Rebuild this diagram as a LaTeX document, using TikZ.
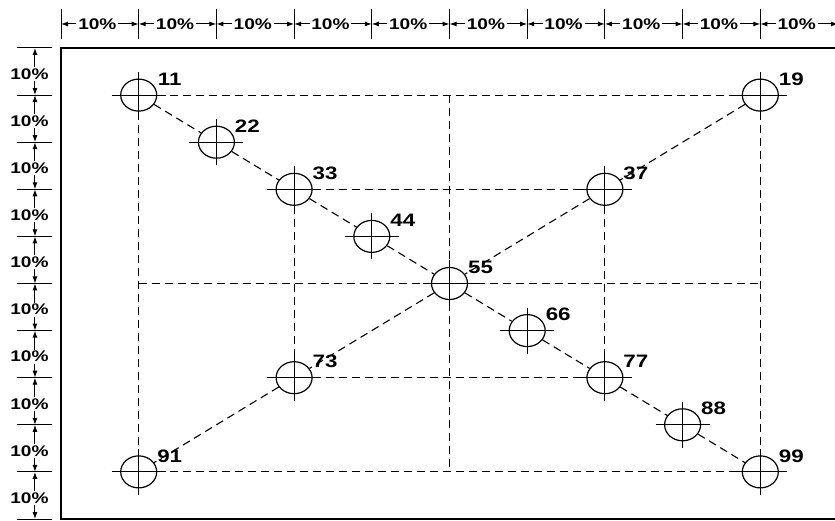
\documentclass[tikz,border=0pt]{standalone}
\usepackage{fontspec}
\setmainfont{Liberation Sans}
\usetikzlibrary{shapes.geometric,arrows.meta}
\tikzset{
  hole/.style={ellipse, draw, line width=1.2pt, minimum width=36pt, minimum height=32pt, inner sep=0pt},
  cross/.style={line width=1.1pt},
  guide/.style={line width=1.1pt, dash pattern=on 8pt off 5pt},
  num/.style={font=\fontsize{18}{18}\selectfont\bfseries, xscale=1.24, inner sep=0pt},
  pct/.style={font=\fontsize{15.4}{16}\selectfont\bfseries, xscale=1.24, fill=white, inner sep=1.5pt},
  dimline/.style={line width=1pt, {Latex[length=7pt,width=5pt]}-{Latex[length=7pt,width=5pt]}},
  dimtick/.style={line width=1pt},
}
\begin{document}
\begin{tikzpicture}[x=1pt, y=-1pt]
\useasboundingbox (0,0) rectangle (835,521);
\clip (0,0) rectangle (835,521);
\begin{scope}[shift={(61,48)}, x=77.7pt, y=-47.1pt]
% frame
\draw[line width=2.2pt] (0,0) rectangle (10.2,10);
% dimension marks, top
\foreach \i in {0,...,10}{
  \coordinate (tx\i) at (\i,-0.51);
  \draw[dimtick] (\i,-0.83) -- (\i,-0.19);
}
\foreach \i in {0,...,9}{
  \pgfmathtruncatemacro{\j}{\i+1}
  \draw[dimline] (tx\i) -- node[pct, xshift=-2pt] {10\%} (tx\j);
}
% dimension marks, left
\foreach \i in {0,...,10}{
  \coordinate (ly\i) at (-0.335,\i);
  \draw[dimtick] (-0.566,\i) -- (-0.116,\i);
}
\foreach \i in {0,...,9}{
  \pgfmathtruncatemacro{\j}{\i+1}
  \draw[dimline] (ly\i) -- node[pct, xshift=-4.5pt, yshift=-2.5pt] {10\%} (ly\j);
}
% holes
\node[hole] (h11) at (1,1) {};
\node[hole] (h19) at (9,1) {};
\node[hole] (h22) at (2,2) {};
\node[hole] (h33) at (3,3) {};
\node[hole] (h37) at (7,3) {};
\node[hole] (h44) at (4,4) {};
\node[hole] (h55) at (5,5) {};
\node[hole] (h66) at (6,6) {};
\node[hole] (h73) at (3,7) {};
\node[hole] (h77) at (7,7) {};
\node[hole] (h88) at (8,8) {};
\node[hole] (h91) at (1,9) {};
\node[hole] (h99) at (9,9) {};
\foreach \n in {11,19,22,33,37,44,55,66,73,77,88,91,99}{
  \draw[cross] ([xshift=-27pt]h\n.center) -- ([xshift=27pt]h\n.center);
  \draw[cross] ([yshift=23pt]h\n.center) -- ([yshift=-23pt]h\n.center);
  \node[num] (l\n) at ([xshift=31pt,yshift=16pt]h\n.center) {\n};
}
% centre lines
\coordinate (midN) at (5,1);
\coordinate (midS) at (5,9);
\coordinate (midW) at (1,5);
\coordinate (midE) at (9,5);
\draw[guide] (h11) -- (h19);
\draw[guide] (h91) -- (h99);
\draw[guide] (h11) -- (h91);
\draw[guide] (h19) -- (h99);
\draw[guide] (midN) -- (midS);
\draw[guide] (midW) -- (midE);
\draw[guide] (h33) -- (h37);
\draw[guide] (h73) -- (h77);
\draw[guide] (h33) -- (h73);
\draw[guide] (h37) -- (h77);
% diagonals
\draw[guide] (h11) -- (h22);
\draw[guide] (h22) -- (h33);
\draw[guide] (h33) -- (h44);
\draw[guide] (h44) -- (h55);
\draw[guide] (h55) -- (h66);
\draw[guide] (h66) -- (h77);
\draw[guide] (h77) -- (h88);
\draw[guide] (h88) -- (h99);
\draw[guide] (h19) -- (h37);
\draw[guide] (h37) -- (h55);
\draw[guide] (h55) -- (h73);
\draw[guide] (h73) -- (h91);
\end{scope}
\end{tikzpicture}
\end{document}
